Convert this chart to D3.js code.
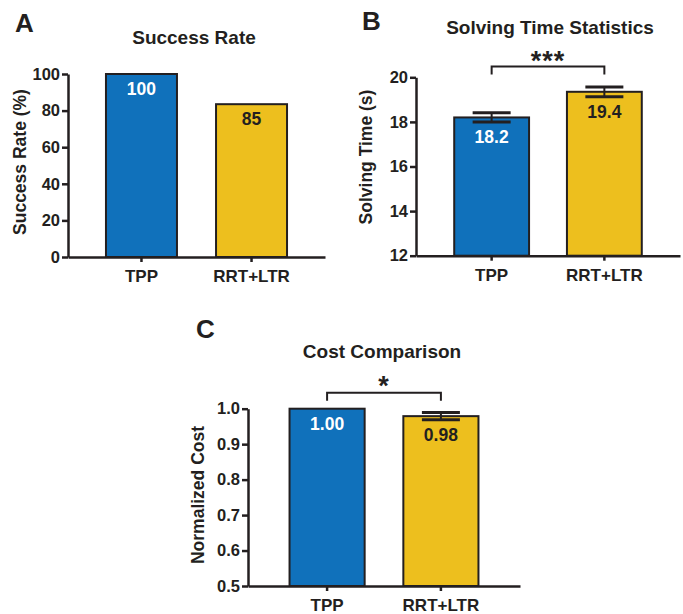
<!DOCTYPE html>
<html>
<head>
<meta charset="utf-8">
<script src="https://cdn.jsdelivr.net/npm/d3@7"></script>
<style>
  body { margin: 0; background: #fff; }
  text { font-family: "Liberation Sans", Arial, sans-serif; font-weight: bold; fill: #231F20; }
</style>
</head>
<body>
<div id="chart"></div>
<script>
// данные
const categories = ["TPP", "RRT+LTR"];
const successRate = [100, 83.5];
const successLabels = ["100", "85"];
const successTicks = [0, 20, 40, 60, 80, 100];

const solvingTime = [18.2, 19.35];
const solvingErr = [0.21, 0.22];
const solvingLabels = ["18.2", "19.4"];
const timeTicks = [12, 14, 16, 18, 20];

const cost = [1.0, 0.979];
const costErr = [0, 0.01];
const costLabels = ["1.00", "0.98"];
const costTicks = [0.5, 0.6, 0.7, 0.8, 0.9, 1.0];

const colors = ["#1071BB", "#EDBF1E"];
const labelColors = ["#ffffff", "#231F20"];
const ink = "#231F20";

const svg = d3.select("#chart").append("svg")
    .attr("width", 683)
    .attr("height", 614);

function panel(opt) {
    const g = svg.append("g");
    const yScale = d3.scaleLinear().domain(opt.domain).range([opt.bottom, opt.top]);
    const xScale = d3.scaleBand().domain(categories)
        .range([opt.left, opt.right])
        .paddingInner(opt.pi).paddingOuter(opt.po);

    const data = categories.map((c, i) => ({
        cat: c, value: opt.values[i], err: opt.errs ? opt.errs[i] : 0,
        label: opt.labels[i], color: colors[i], lc: labelColors[i]
    }));

    // столбцы
    g.selectAll("rect").data(data).enter().append("rect")
        .attr("x", d => xScale(d.cat))
        .attr("y", d => yScale(d.value))
        .attr("width", xScale.bandwidth())
        .attr("height", d => yScale(opt.domain[0]) - yScale(d.value))
        .attr("fill", d => d.color)
        .attr("stroke", ink)
        .attr("stroke-width", 2);

    // оси
    const yAxis = d3.axisLeft(yScale).tickValues(opt.ticks).tickFormat(opt.fmt)
        .tickSize(6).tickPadding(2).tickSizeOuter(0);
    const ya = g.append("g").attr("transform", `translate(${opt.left},0)`).call(yAxis);
    ya.selectAll("text").style("font-size", "16.5px").attr("fill", ink);

    const xAxis = d3.axisBottom(xScale).tickSize(5).tickPadding(8).tickSizeOuter(0);
    const xa = g.append("g").attr("transform", `translate(0,${opt.bottom})`).call(xAxis);
    xa.selectAll("text").style("font-size", "17px").attr("fill", ink);

    g.selectAll(".domain, .tick line").attr("stroke", ink).attr("stroke-width", 2.5);

    // планки погрешностей
    const eb = data.filter(d => d.err > 0);
    const cx = d => xScale(d.cat) + xScale.bandwidth() / 2;
    g.selectAll(".stem").data(eb).enter().append("line")
        .attr("x1", cx).attr("x2", cx)
        .attr("y1", d => yScale(d.value + d.err)).attr("y2", d => yScale(d.value - d.err))
        .attr("stroke", ink).attr("stroke-width", 2);
    [1, -1].forEach(s => {
        g.selectAll(".cap" + s).data(eb).enter().append("line")
            .attr("x1", d => cx(d) - 19).attr("x2", d => cx(d) + 19)
            .attr("y1", d => yScale(d.value + s * d.err)).attr("y2", d => yScale(d.value + s * d.err))
            .attr("stroke", ink).attr("stroke-width", 3);
    });

    // подписи значений
    g.selectAll(".vlabel").data(data).enter().append("text")
        .attr("x", cx)
        .attr("y", d => yScale(d.value - d.err) + 21)
        .attr("text-anchor", "middle")
        .style("font-size", "17.5px")
        .style("fill", d => d.lc)
        .text(d => d.label);

    // заголовок и буква панели
    g.append("text").attr("x", opt.titleX).attr("y", opt.titleY)
        .attr("text-anchor", "middle").style("font-size", "19px").text(opt.title);
    g.append("text").attr("x", opt.letterX).attr("y", opt.letterY)
        .style("font-size", "26px").text(opt.letter);

    // подпись оси Y
    g.append("text")
        .attr("transform", `translate(${opt.ylabX},${opt.ylabY}) rotate(-90)`)
        .attr("text-anchor", "middle")
        .style("font-size", "17.5px")
        .text(opt.ylabel);

    // скобка значимости
    if (opt.sig) {
        const x1 = cx(data[0]), x2 = cx(data[1]);
        g.append("path")
            .attr("d", `M${x1},${opt.sigY + 8}V${opt.sigY}H${x2}V${opt.sigY + 8}`)
            .attr("fill", "none").attr("stroke", ink).attr("stroke-width", 2);
        g.append("text").attr("x", (x1 + x2) / 2).attr("y", opt.sigY + opt.starDy)
            .attr("text-anchor", "middle")
            .style("font-size", "27px")
            .style("letter-spacing", "1px")
            .text(opt.sig);
    }
}

panel({
    values: successRate, labels: successLabels, ticks: successTicks, fmt: d3.format("d"),
    domain: [0, 100], top: 74, bottom: 257, left: 68, right: 325, pi: 0.355, po: 0.345,
    title: "Success Rate", titleX: 194, titleY: 44, letter: "A", letterX: 15, letterY: 32,
    ylabel: "Success Rate (%)", ylabX: 26, ylabY: 162
});

panel({
    values: solvingTime, errs: solvingErr, labels: solvingLabels, ticks: timeTicks, fmt: d3.format("d"),
    domain: [12, 20], top: 77.3, bottom: 255.7, left: 416, right: 680, pi: 0.336, po: 0.339,
    title: "Solving Time Statistics", titleX: 550, titleY: 34, letter: "B", letterX: 362, letterY: 30,
    ylabel: "Solving Time (s)", ylabX: 372, ylabY: 157, sig: "***", sigY: 66.5, starDy: 3
});

panel({
    values: cost, errs: costErr, labels: costLabels, ticks: costTicks, fmt: d3.format(".1f"),
    domain: [0.5, 1.0], top: 408.7, bottom: 586, left: 248, right: 520, pi: 0.34, po: 0.365,
    title: "Cost Comparison", titleX: 382, titleY: 358, letter: "C", letterX: 196, letterY: 338,
    ylabel: "Normalized Cost", ylabX: 204, ylabY: 495, sig: "*", sigY: 392.7, starDy: 2
});
</script>
</body>
</html>
